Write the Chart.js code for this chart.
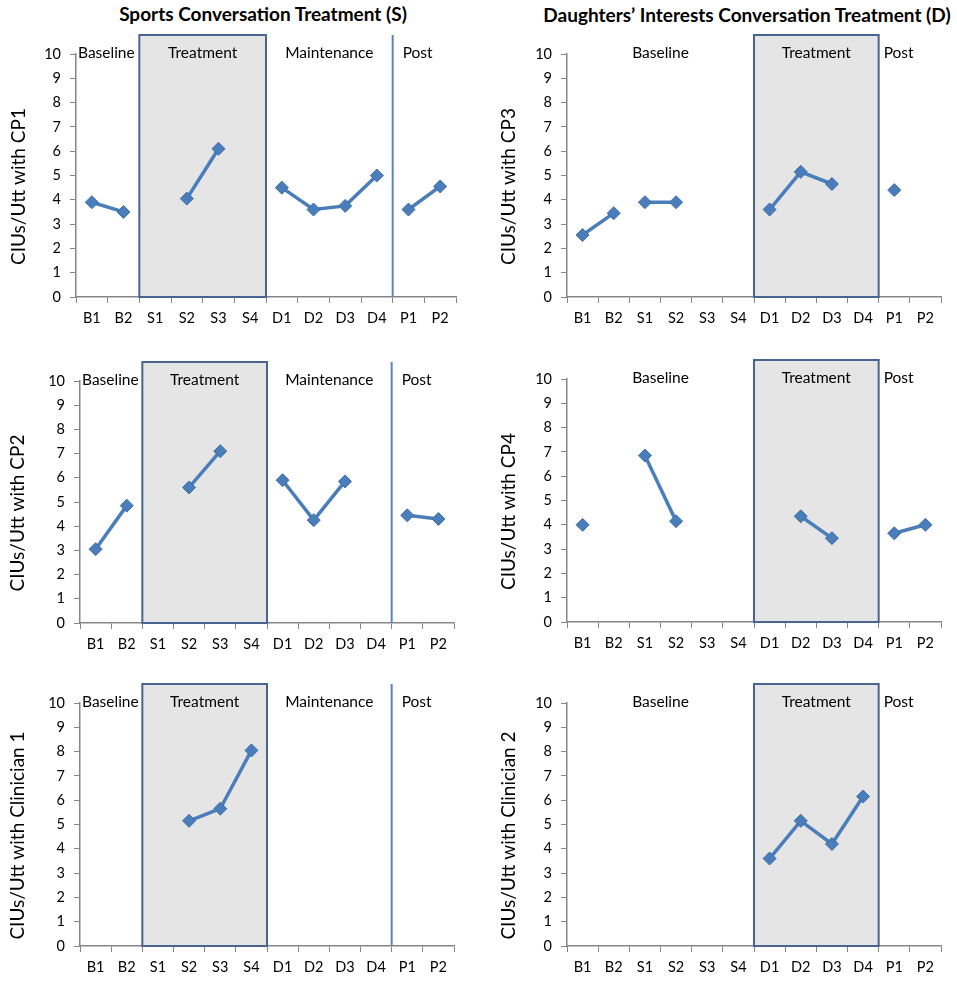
<!DOCTYPE html>
<html>
<head>
<meta charset="utf-8">
<script src="https://cdn.jsdelivr.net/npm/chart.js@4/dist/chart.umd.min.js"></script>
<style>
  html, body { margin: 0; padding: 0; background: #fff; }
  body { width: 957px; height: 1001px; position: relative; overflow: hidden; font-family: Lato, "Open Sans", sans-serif; }
  .panel { position: absolute; }
  .title { position: absolute; font-weight: bold; font-size: 19px; color: #000; white-space: nowrap; transform: translate(-50%, -50%); }
</style>
</head>
<body>
<div class="title" style="left:263px; top:13px;">Sports Conversation Treatment (S)</div>
<div class="title" style="left:747px; top:14px;">Daughters’ Interests Conversation Treatment (D)</div>
<div class="panel" id="p1"><canvas id="c1"></canvas></div>
<div class="panel" id="p2"><canvas id="c2"></canvas></div>
<div class="panel" id="p3"><canvas id="c3"></canvas></div>
<div class="panel" id="p4"><canvas id="c4"></canvas></div>
<div class="panel" id="p5"><canvas id="c5"></canvas></div>
<div class="panel" id="p6"><canvas id="c6"></canvas></div>
<script>
// ---- data ----
const categories = ['B1','B2','S1','S2','S3','S4','D1','D2','D3','D4','P1','P2'];
const cp1Values = [3.9, 3.5, null, 4.05, 6.1, null, 4.5, 3.6, 3.75, 5.0, 3.6, 4.55];
const cp3Values = [2.55, 3.45, 3.9, 3.9, null, null, 3.6, 5.15, 4.65, null, 4.4, null];
const cp2Values = [3.05, 4.85, null, 5.6, 7.1, null, 5.9, 4.25, 5.85, null, 4.45, 4.3];
const cp4Values = [4.0, null, 6.85, 4.15, null, null, null, 4.35, 3.45, null, 3.65, 4.0];
const clinician1Values = [null, null, null, 5.15, 5.65, 8.05, null, null, null, null, null, null];
const clinician2Values = [null, null, null, null, null, null, 3.6, 5.15, 4.2, 6.15, null, null];
const yTickMin = 0, yTickMax = 10, yTickStep = 1;
// index ranges of the session groups (lines join only inside a group)
const sessionGroups = [[0,1],[2,5],[6,9],[10,11]];
// phases: [label, firstIndex, lastIndex]
const sportsPhases = [['Baseline',0,1],['Treatment',2,5],['Maintenance',6,9],['Post',10,11]];
const daughtersPhases = [['Baseline',0,5],['Treatment',6,9],['Post',10,11]];
const sportsTreatment = [2,5];
const daughtersTreatment = [6,9];
const sportsPostIndex = 10;

// ---- styles / layout ----
const LINE = '#4A7EBB';
const FONT = 'Lato, "Open Sans", sans-serif';
const AXIS = '#868686';

function buildDatasets(values) {
  return sessionGroups.map(([a,b]) => ({
    data: values.map((v,i) => (i >= a && i <= b) ? v : null),
    borderColor: LINE,
    backgroundColor: LINE,
    borderWidth: 3.5,
    pointStyle: 'rectRot',
    pointRadius: 6.5,
    pointBackgroundColor: LINE,
    pointBorderColor: '#3E6DA8',
    pointBorderWidth: 1,
    spanGaps: false,
    tension: 0
  }));
}

const phasePlugin = {
  id: 'phases',
  beforeDatasetsDraw(chart, args, opts) {
    const x = chart.scales.x, y = chart.scales.y, ctx = chart.ctx;
    const step = x.getPixelForValue(1) - x.getPixelForValue(0);
    const bottom = y.getPixelForValue(0);
    const top = chart.chartArea.top - opts.boxRise;
    const [a,b] = opts.treatment;
    const x0 = x.getPixelForValue(a) - step/2, x1 = x.getPixelForValue(b) + step/2;
    ctx.save();
    ctx.fillStyle = '#E5E5E5';
    ctx.fillRect(x0, top, x1 - x0, bottom - top);
    ctx.strokeStyle = '#4A6491';
    ctx.lineWidth = 2;
    ctx.strokeRect(x0, top, x1 - x0, bottom - top);
    if (opts.postIndex != null) {
      const px = x.getPixelForValue(opts.postIndex) - step/2;
      ctx.strokeStyle = '#5B84BD';
      ctx.lineWidth = 2;
      ctx.beginPath(); ctx.moveTo(px, top); ctx.lineTo(px, bottom); ctx.stroke();
    }
    ctx.restore();
  },
  afterDatasetsDraw(chart, args, opts) {
    const x = chart.scales.x, y = chart.scales.y, ctx = chart.ctx;
    const step = x.getPixelForValue(1) - x.getPixelForValue(0);
    const ty = y.getPixelForValue(10) - 1;
    ctx.save();
    ctx.font = '15.5px ' + FONT;
    ctx.fillStyle = '#000';
    ctx.textBaseline = 'middle';
    opts.phases.forEach(([label,a,b]) => {
      const left = x.getPixelForValue(a) - step/2;
      const right = x.getPixelForValue(b) + step/2;
      if (label === 'Post') {
        ctx.textAlign = 'left';
        ctx.fillText(label, left + opts.postShift, ty);
      } else if (label === 'Baseline' && opts.baselineLeft) {
        ctx.textAlign = 'left';
        ctx.fillText(label, left + 2, ty);
      } else {
        ctx.textAlign = 'center';
        ctx.fillText(label, (left + right)/2, ty);
      }
    });
    // y-axis title (rotated), sitting slightly below the axis middle as in the original
    const midY = (y.getPixelForValue(0) + y.getPixelForValue(10)) / 2 + 11;
    ctx.translate(opts.titleX, midY);
    ctx.rotate(-Math.PI / 2);
    ctx.font = '19px ' + FONT;
    ctx.textAlign = 'center';
    ctx.textBaseline = 'middle';
    ctx.fillText(opts.yTitle, 0, 0);
    ctx.restore();
  }
};

function makePanel(id, canvasId, values, yTitle, geo, phaseOpts) {
  const canvasLeft = geo.left;
  const canvasTop = geo.yTop - 34;
  const width = 470;
  const height = geo.y0 - canvasTop + 40;
  const div = document.getElementById(id);
  div.style.left = canvasLeft + 'px';
  div.style.top = canvasTop + 'px';
  div.style.width = width + 'px';
  div.style.height = height + 'px';
  new Chart(document.getElementById(canvasId), {
    type: 'line',
    data: { labels: categories, datasets: buildDatasets(values) },
    options: {
      responsive: true,
      maintainAspectRatio: false,
      animation: false,
      events: [],
      layout: { padding: { top: 34, left: 0, bottom: 0, right: canvasLeft + width - geo.axisRight } },
      plugins: { legend: { display: false }, tooltip: { enabled: false },
        phases: Object.assign({}, phaseOpts, { yTitle: yTitle, titleX: geo.titleX }) },
      scales: {
        x: {
          type: 'category',
          offset: true,
          afterFit(s) { s.height = 40; },
          grid: { display: true, drawOnChartArea: false, drawTicks: true, tickLength: 6, offset: true, color: AXIS, lineWidth: 1 },
          border: { display: true, color: AXIS, width: 1.5 },
          ticks: { color: '#000', font: { family: FONT, size: 14.5 }, padding: 7, maxRotation: 0, autoSkip: false }
        },
        y: {
          min: yTickMin, max: yTickMax,
          afterFit(s) { s.width = geo.axisLeft - canvasLeft; },
          grid: { display: true, drawOnChartArea: false, drawTicks: true, tickLength: 6, color: AXIS, lineWidth: 1 },
          border: { display: true, color: AXIS, width: 1.5 },
          ticks: { stepSize: yTickStep, color: '#000', font: { family: FONT, size: 14.5 }, padding: 9 },
          title: { display: false }
        }
      }
    },
    plugins: [phasePlugin]
  });
}

const leftPhaseOpts = { phases: sportsPhases, treatment: sportsTreatment, postIndex: sportsPostIndex, boxRise: 19, postShift: 10, baselineLeft: true };
const rightPhaseOpts = { phases: daughtersPhases, treatment: daughtersTreatment, postIndex: null, boxRise: 19, postShift: 5, baselineLeft: false };

makePanel('p1','c1', cp1Values, 'CIUs/Utt with CP1', { left: 0, yTop: 54, y0: 297, axisLeft: 76, axisRight: 456, titleX: 19 }, leftPhaseOpts);
makePanel('p2','c2', cp3Values, 'CIUs/Utt with CP3', { left: 480, yTop: 54, y0: 297, axisLeft: 567, axisRight: 941, titleX: 29 }, rightPhaseOpts);
makePanel('p3','c3', cp2Values, 'CIUs/Utt with CP2', { left: 0, yTop: 381, y0: 623, axisLeft: 80, axisRight: 454, titleX: 18 }, leftPhaseOpts);
makePanel('p4','c4', cp4Values, 'CIUs/Utt with CP4', { left: 480, yTop: 379, y0: 622, axisLeft: 567, axisRight: 941, titleX: 29 }, rightPhaseOpts);
makePanel('p5','c5', clinician1Values, 'CIUs/Utt with Clinician 1', { left: 0, yTop: 703, y0: 946, axisLeft: 80, axisRight: 454, titleX: 18 }, leftPhaseOpts);
makePanel('p6','c6', clinician2Values, 'CIUs/Utt with Clinician 2', { left: 480, yTop: 703, y0: 946, axisLeft: 567, axisRight: 941, titleX: 29 }, rightPhaseOpts);
</script>
</body>
</html>
